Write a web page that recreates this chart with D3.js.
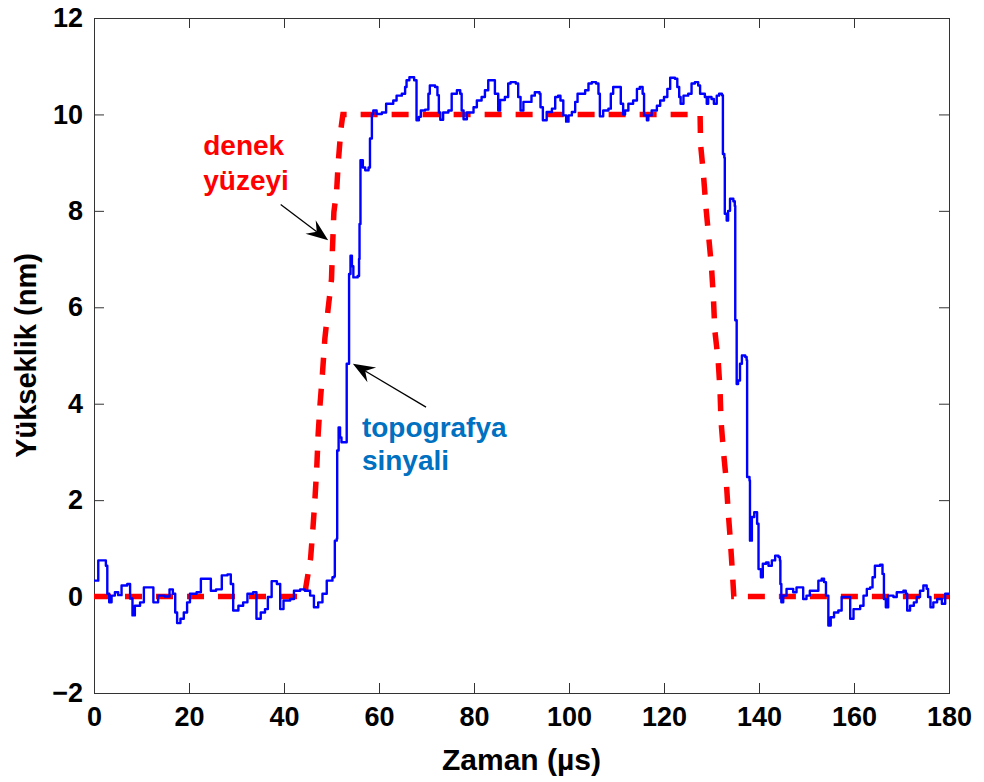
<!DOCTYPE html>
<html>
<head>
<meta charset="utf-8">
<script src="https://cdn.jsdelivr.net/npm/d3@7/dist/d3.min.js"></script>
<style>
  html, body { margin: 0; padding: 0; background: #fff; }
  svg text { font-family: "Liberation Sans", Arial, Helvetica, sans-serif; font-weight: bold; }
</style>
</head>
<body>
<svg id="chart" width="984" height="782"></svg>
<script>
// Time axis (µs) and height axis (nm)
const xTicks = [0, 20, 40, 60, 80, 100, 120, 140, 160, 180];
const yTicks = [-2, 0, 2, 4, 6, 8, 10, 12];

// Sample surface profile: [time µs, height nm]
const surfaceTime = [0, 44.5, 44.6, 45.6, 46.1, 46.5, 46.9, 47.2, 47.6, 48.1, 48.6, 49.3, 50.0, 50.2, 50.5, 51.1, 51.4, 52.0, 52.4,
  127.6, 127.7, 128.3, 128.8, 129.4, 130.0, 130.4, 130.7, 131.4, 131.8, 132.0, 132.5, 133.1, 133.5, 134.0, 134.4, 134.7, 180];
const surfaceHeight = [0, 0, 0.2, 0.79, 1.43, 2.0, 2.68, 3.38, 4.0, 4.63, 5.35, 5.98, 6.58, 7.2, 7.97, 8.44, 8.98, 9.71, 10.0,
  10.0, 9.38, 8.76, 8.11, 7.47, 6.83, 6.2, 5.52, 4.9, 4.27, 3.65, 3.03, 2.41, 1.78, 1.12, 0.5, 0, 0];

// Measured topography signal: [time µs, height nm]
const signalTime = [0, 0.9, 2.0, 2.5, 2.8, 3.2, 3.7, 4.4, 5.1, 5.8, 7.0, 7.6, 8.1, 8.6, 9.7, 10.5, 12.1, 12.5, 13.5, 14.9, 15.9, 16.6, 17.1, 17.5, 18.2, 18.9, 19.6, 20.2, 21.6, 22.5, 24.1, 24.6, 25.7, 26.9, 28.1, 28.8, 29.3, 30.4, 31.4, 32.3, 33.5, 34.2, 35.1, 36.0, 36.6, 37.4, 38.5, 39.2, 39.9, 41.3, 42.1, 43.4, 44.4, 45.5, 46.3, 47.2, 48.1, 49.0, 50.2, 50.6, 50.7, 51.1, 51.2, 51.5, 51.8, 52.1, 53.0, 53.2, 53.7, 54.0, 54.3, 54.6, 55.5, 55.8, 55.9, 56.1, 56.6, 57.1, 57.8, 58.1, 58.5, 58.8, 59.5, 60.6, 61.5, 62.5, 63.0, 63.7, 64.8, 65.5, 65.8, 66.4, 67.4, 67.7, 67.9, 68.4, 68.8, 69.7, 70.4, 70.7, 71.8, 72.3, 72.6, 72.9, 73.5, 74.6, 75.3, 76.4, 77.1, 77.4, 77.8, 78.5, 79.9, 80.6, 81.6, 82.3, 83.0, 83.9, 84.4, 85.1, 85.5, 86.5, 87.2, 87.7, 88.8, 89.3, 89.8, 90.4, 91.4, 92.1, 92.8, 93.8, 94.0, 94.5, 94.9, 95.3, 96.4, 97.1, 97.7, 98.2, 98.8, 99.4, 99.9, 100.6, 101.3, 101.8, 102.7, 103.4, 104.1, 104.8, 105.7, 106.2, 106.5, 107.2, 108.3, 108.8, 109.3, 110.4, 110.9, 111.4, 111.8, 112.5, 113.5, 114.3, 114.9, 115.5, 115.8, 116.4, 116.7, 117.4, 118.5, 119.2, 120.0, 120.7, 121.3, 122.3, 122.8, 123.2, 123.5, 124.1, 125.1, 125.8, 126.5, 127.2, 127.6, 128.6, 129.0, 129.3, 130.0, 130.5, 131.1, 131.6, 132.2, 132.4, 132.7, 132.8, 133.2, 133.5, 133.9, 134.6, 134.9, 135.0, 135.3, 135.3, 135.6, 136.0, 136.4, 137.1, 137.4, 137.5, 138.0, 138.1, 138.5, 139.0, 139.6, 139.9, 140.4, 140.8, 141.5, 142.0, 142.7, 143.4, 144.1, 144.4, 144.5, 144.7, 145.1, 145.8, 146.5, 147.2, 147.9, 148.6, 149.3, 150.0, 150.7, 151.8, 152.5, 153.2, 153.7, 154.1, 154.6, 155.1, 155.8, 156.7, 157.4, 158.8, 159.2, 159.9, 161.3, 162.0, 162.7, 163.4, 163.9, 164.4, 165.5, 166.0, 166.3, 166.7, 167.2, 168.3, 169.0, 170.4, 170.9, 171.2, 171.8, 172.6, 173.2, 173.9, 174.6, 175.3, 175.6, 176.1, 176.7, 177.5, 178.5, 179.2, 180];
const signalHeight = [0.33, 0.75, 0.75, 0.64, 0.06, -0.12, 0.02, 0.09, 0.03, 0.23, 0.26, -0.04, -0.39, -0.19, -0.12, 0.19, 0.19, -0.12, 0.02, 0.0, 0.15, 0.06, -0.33, -0.55, -0.46, -0.33, -0.12, 0.06, 0.09, 0.37, 0.37, 0.12, 0.15, 0.44, 0.46, 0.26, -0.29, -0.19, -0.12, 0.06, 0.09, -0.46, -0.33, -0.26, -0.01, 0.32, 0.26, -0.26, -0.08, -0.05, 0.12, 0.15, 0.12, 0.02, -0.22, -0.12, 0.06, 0.33, 0.40, 0.42, 1.16, 1.2, 3.03, 3.51, 3.3, 3.2, 3.2, 4.83, 6.69, 7.07, 6.85, 6.62, 6.65, 7.0, 7.73, 9.05, 8.9, 8.84, 8.9, 9.5, 10.01, 10.08, 10.01, 10.04, 10.22, 10.22, 10.29, 10.39, 10.43, 10.57, 10.71, 10.77, 10.71, 10.71, 9.88, 9.95, 10.08, 10.1, 10.43, 10.6, 10.57, 10.4, 10.04, 9.89, 10.04, 10.08, 10.43, 10.5, 10.43, 10.08, 9.9, 10.04, 10.15, 10.29, 10.36, 10.5, 10.71, 10.71, 10.43, 10.08, 10.3, 10.36, 10.64, 10.67, 10.64, 10.36, 10.08, 10.26, 10.26, 10.39, 10.46, 10.43, 10.15, 9.88, 9.88, 10.05, 10.12, 10.36, 10.39, 10.29, 9.98, 9.85, 9.98, 10.05, 10.26, 10.43, 10.43, 10.5, 10.64, 10.67, 10.64, 10.43, 9.96, 10.08, 10.12, 10.43, 10.57, 10.57, 10.22, 10.0, 10.08, 10.22, 10.29, 10.53, 10.57, 10.43, 9.98, 9.88, 9.98, 10.08, 10.18, 10.29, 10.36, 10.53, 10.76, 10.74, 10.57, 10.36, 10.22, 10.39, 10.43, 10.64, 10.67, 10.6, 10.43, 10.36, 10.22, 10.36, 10.32, 10.22, 10.39, 10.43, 10.4, 9.18, 9.1, 7.94, 7.8, 8.0, 8.25, 8.2, 8.1, 5.73, 5.65, 4.41, 4.48, 4.83, 5.0, 4.97, 4.9, 2.48, 2.41, 1.16, 1.65, 1.75, 1.51, 0.57, 0.4, 0.68, 0.71, 0.64, 0.75, 0.85, 0.82, 0.75, 0.26, -0.12, 0.02, 0.16, 0.16, 0.09, 0.19, 0.19, -0.05, 0.02, 0.12, 0.12, 0.33, 0.37, 0.3, 0.02, -0.6, -0.43, -0.33, -0.29, -0.01, -0.01, -0.46, -0.26, -0.19, 0.02, 0.16, 0.19, 0.4, 0.64, 0.66, 0.47, -0.05, -0.22, 0.02, -0.01, 0.09, 0.12, 0.06, -0.29, -0.19, -0.12, -0.01, 0.12, 0.23, 0.16, -0.01, -0.22, -0.12, -0.05, -0.15, 0.06, 0.06];

// Annotation texts
const surfaceLabel = ["denek", "yüzeyi"];
const signalLabel = ["topografya", "sinyali"];

const svg = d3.select("#chart");
const margin = { left: 94, right: 949, top: 18, bottom: 693 };

const x = d3.scaleLinear().domain([0, 180]).range([margin.left, margin.right]);
const y = d3.scaleLinear().domain([-2, 12]).range([margin.bottom, margin.top]);

svg.append("defs").append("clipPath").attr("id", "plotClip")
  .append("rect")
  .attr("x", margin.left).attr("y", margin.top)
  .attr("width", margin.right - margin.left).attr("height", margin.bottom - margin.top);

// Axes with inward ticks on all four sides
const tickLen = 10;
const axisColor = "#333";
const bottomAxis = d3.axisBottom(x).tickValues(xTicks).tickSizeInner(-tickLen).tickSizeOuter(0).tickPadding(14)
  .tickFormat(d => String(d));
const leftAxis = d3.axisLeft(y).tickValues(yTicks).tickSizeInner(-tickLen).tickSizeOuter(0).tickPadding(11)
  .tickFormat(d => d < 0 ? "\u2212" + Math.abs(d) : String(d));
const topAxis = d3.axisTop(x).tickValues(xTicks).tickSizeInner(-tickLen).tickSizeOuter(0).tickFormat("");
const rightAxis = d3.axisRight(y).tickValues(yTicks).tickSizeInner(-tickLen).tickSizeOuter(0).tickFormat("");

function styleAxis(g) {
  g.select(".domain").remove();
  g.selectAll(".tick line").attr("stroke", axisColor).attr("stroke-width", 1);
  g.selectAll(".tick text").attr("fill", "#000").style("font-size", "27px").style("font-weight", "bold");
}

svg.append("g").attr("transform", `translate(0,${margin.bottom})`).call(bottomAxis).call(styleAxis)
  .selectAll(".tick text").attr("dy", "0.71em");
svg.append("g").attr("transform", `translate(${margin.left},0)`).call(leftAxis).call(styleAxis);
svg.append("g").attr("transform", `translate(0,${margin.top})`).call(topAxis).call(styleAxis);
svg.append("g").attr("transform", `translate(${margin.right},0)`).call(rightAxis).call(styleAxis);

// Plot frame
svg.append("rect")
  .attr("x", margin.left + 0.5).attr("y", margin.top + 0.5)
  .attr("width", margin.right - margin.left).attr("height", margin.bottom - margin.top)
  .attr("fill", "none").attr("stroke", axisColor).attr("stroke-width", 1);

const plot = svg.append("g").attr("clip-path", "url(#plotClip)");

// Surface profile (red dashed)
const surfacePts = surfaceTime.map((t, i) => [t, surfaceHeight[i]]);
plot.append("path")
  .datum(surfacePts)
  .attr("d", d3.line().x(d => x(d[0])).y(d => y(d[1])))
  .attr("fill", "none")
  .attr("stroke", "#ff0000")
  .attr("stroke-width", 5.5)
  .attr("stroke-dasharray", "17,14");

// Topography signal (blue), drawn as a sampled staircase
const signalPts = signalTime.map((t, i) => [t, signalHeight[i]]);
plot.append("path")
  .datum(signalPts)
  .attr("d", d3.line().curve(d3.curveStepAfter).x(d => x(d[0])).y(d => y(d[1])))
  .attr("fill", "none")
  .attr("stroke", "#0000ff")
  .attr("stroke-width", 2.4)
  .attr("stroke-linejoin", "round");

// Axis titles
svg.append("text")
  .attr("x", (margin.left + margin.right) / 2)
  .attr("y", 770)
  .attr("text-anchor", "middle")
  .style("font-size", "30px")
  .text("Zaman (µs)");

svg.append("text")
  .attr("transform", `translate(36,${(margin.top + margin.bottom) / 2}) rotate(-90)`)
  .attr("text-anchor", "middle")
  .style("font-size", "29px")
  .text("Yükseklik (nm)");

// Annotation arrows with notched heads
function arrow(tail, tip) {
  const x0 = x(tail[0]), y0 = y(tail[1]), x1 = x(tip[0]), y1 = y(tip[1]);
  const dx = x1 - x0, dy = y1 - y0, len = Math.hypot(dx, dy);
  const ux = dx / len, uy = dy / len, nx = -uy, ny = ux;
  const L = 22, W = 17;
  const bx = x1 - L * ux, by = y1 - L * uy;
  const mx = x1 - 0.65 * L * ux, my = y1 - 0.65 * L * uy;
  svg.append("line")
    .attr("x1", x0).attr("y1", y0).attr("x2", mx).attr("y2", my)
    .attr("stroke", "#000").attr("stroke-width", 1.3);
  svg.append("path")
    .attr("d", `M${x1},${y1}L${bx + nx * W / 2},${by + ny * W / 2}L${mx},${my}L${bx - nx * W / 2},${by - ny * W / 2}Z`)
    .attr("fill", "#000");
}

const surfaceText = svg.append("text").attr("fill", "#ff0000").style("font-size", "28px");
surfaceLabel.forEach((s, i) => {
  surfaceText.append("tspan").attr("x", x(23.0)).attr("y", y(9.15) + i * 35).text(s);
});
arrow([39.3, 8.13], [49.3, 7.39]);

const signalText = svg.append("text").attr("fill", "#0070c0").style("font-size", "28px");
signalLabel.forEach((s, i) => {
  signalText.append("tspan").attr("x", x(56.4)).attr("y", y(3.3) + i * 33).text(s);
});
arrow([69.9, 3.93], [54.5, 4.83]);
</script>
</body>
</html>
